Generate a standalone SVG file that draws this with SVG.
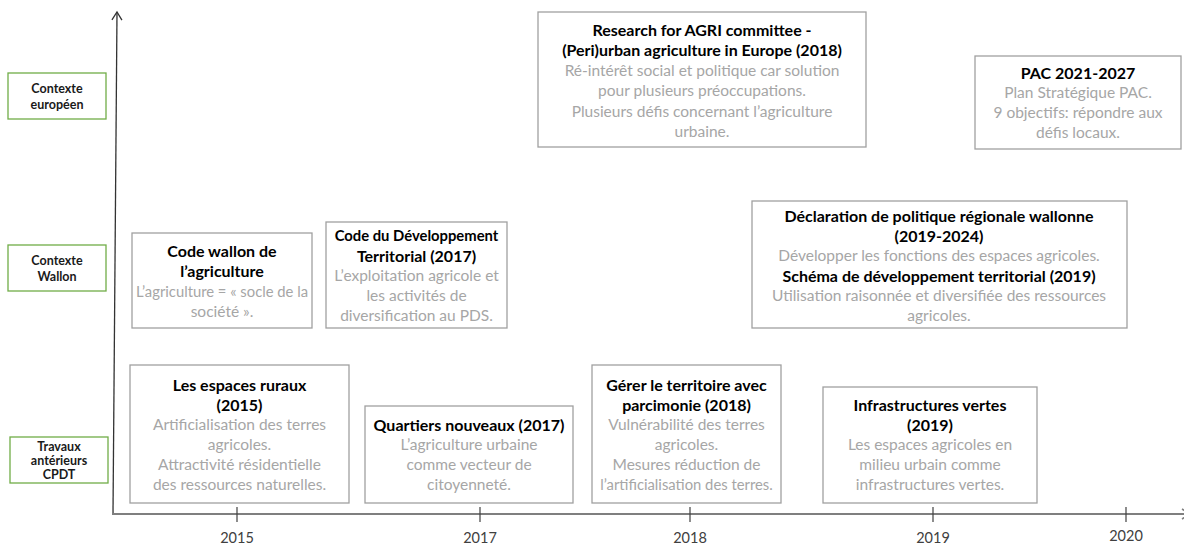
<svg xmlns="http://www.w3.org/2000/svg" width="1184" height="545" viewBox="0 0 1184 545">
<style>
.box{fill:#fff;stroke:#a0a0a0;stroke-width:1.3}
.lab{fill:#fff;stroke:#70ad47;stroke-width:1.3}
text{font-family:Lato,"Liberation Sans",sans-serif;text-anchor:middle;dominant-baseline:central}
.t{font-size:16px;font-weight:bold;fill:#000}
.b{font-size:15.5px;fill:#a6a6a6}
.s{font-size:14.8px}
.l{font-size:12.5px;font-weight:bold;fill:#1a1a1a}
.yr{font-size:14.5px;fill:#404040}
.ax{stroke:#333;stroke-width:1.3;fill:none}
</style>
<defs>
<marker id="arr" markerWidth="14" markerHeight="14" refX="11" refY="6" orient="auto" markerUnits="userSpaceOnUse" viewBox="0 0 14 12">
<path d="M3,1 L11,6 L3,11" fill="none" stroke="#333" stroke-width="1.3"/>
</marker>
<marker id="arr2" markerWidth="14" markerHeight="14" refX="11" refY="6" orient="auto" markerUnits="userSpaceOnUse" viewBox="0 0 14 12">
<path d="M3,1 L11,6 L3,11" fill="none" stroke="#7f7f7f" stroke-width="1.5"/>
</marker>
</defs>
<g id="connectors">
<line class="ax" x1="113" y1="514" x2="117" y2="12" marker-end="url(#arr)"/>
<line x1="112" y1="514" x2="1190" y2="514" stroke="#7f7f7f" stroke-width="2" marker-end="url(#arr2)"/>
<g stroke="#404040" stroke-width="1.2">
<line x1="237" y1="507" x2="237" y2="522"/>
<line x1="480" y1="507" x2="480" y2="522"/>
<line x1="690" y1="507" x2="690" y2="522"/>
<line x1="933" y1="507" x2="933" y2="522"/>
<line x1="1126" y1="507" x2="1126" y2="522"/>
</g>
<g>
<text class="yr" x="237" y="537">2015</text>
<text class="yr" x="480" y="537">2017</text>
<text class="yr" x="690" y="537">2018</text>
<text class="yr" x="933" y="537">2019</text>
<text class="yr" x="1126" y="535">2020</text>
</g>
</g>
<g id="label-europe">
<rect class="lab" x="8" y="73" width="98" height="46"/>
<text class="l" x="57" y="88">Contexte</text>
<text class="l" x="57" y="104">européen</text>
</g>
<g id="label-wallon">
<rect class="lab" x="8" y="245" width="98" height="46"/>
<text class="l" x="57" y="260">Contexte</text>
<text class="l" x="57" y="276">Wallon</text>
</g>
<g id="label-cpdt">
<rect class="lab" x="10" y="437" width="98" height="46"/>
<text class="l" x="59" y="446">Travaux</text>
<text class="l" x="59" y="460">antérieurs</text>
<text class="l" x="59" y="474">CPDT</text>
</g>
<g id="research-agri">
<rect class="box" x="538" y="12" width="328" height="135"/>
<text class="t" x="702" y="29">Research for AGRI committee -</text>
<text class="t" x="702" y="49">(Peri)urban agriculture in Europe (2018)</text>
<text class="b" x="702" y="70">Ré-intérêt social et politique car solution</text>
<text class="b" x="702" y="90">pour plusieurs préoccupations.</text>
<text class="b" x="702" y="111">Plusieurs défis concernant l’agriculture</text>
<text class="b" x="702" y="131">urbaine.</text>
</g>
<g id="pac">
<rect class="box" x="975" y="56" width="206" height="93"/>
<text class="t" x="1078" y="72">PAC 2021-2027</text>
<text class="b" x="1078" y="92">Plan Stratégique PAC.</text>
<text class="b" x="1078" y="112">9 objectifs: répondre aux</text>
<text class="b" x="1078" y="132">défis locaux.</text>
</g>
<g id="code-wallon">
<rect class="box" x="132" y="233" width="180" height="95"/>
<text class="t" x="222" y="250">Code wallon de</text>
<text class="t" x="222" y="270">l’agriculture</text>
<text class="b s" x="222" y="291">L’agriculture = « socle de la</text>
<text class="b" x="222" y="311">société ».</text>
</g>
<g id="code-developpement">
<rect class="box" x="326" y="222" width="181" height="106"/>
<text class="t s" x="416.5" y="235">Code du Développement</text>
<text class="t" x="416.5" y="255">Territorial (2017)</text>
<text class="b" x="416.5" y="275">L’exploitation agricole et</text>
<text class="b" x="416.5" y="295">les activités de</text>
<text class="b" x="416.5" y="315">diversification au PDS.</text>
</g>
<g id="declaration">
<rect class="box" x="752" y="201" width="375" height="127"/>
<text class="t" x="939" y="215">Déclaration de politique régionale wallonne</text>
<text class="t" x="939" y="235">(2019-2024)</text>
<text class="b" x="939" y="255">Développer les fonctions des espaces agricoles.</text>
<text class="t" x="939" y="275">Schéma de développement territorial (2019)</text>
<text class="b" x="939" y="295">Utilisation raisonnée et diversifiée des ressources</text>
<text class="b" x="939" y="315">agricoles.</text>
</g>
<g id="espaces-ruraux">
<rect class="box" x="130" y="365" width="219" height="138"/>
<text class="t" x="239.5" y="384">Les espaces ruraux</text>
<text class="t" x="239.5" y="404">(2015)</text>
<text class="b" x="239.5" y="424">Artificialisation des terres</text>
<text class="b" x="239.5" y="444">agricoles.</text>
<text class="b" x="239.5" y="464">Attractivité résidentielle</text>
<text class="b" x="239.5" y="484">des ressources naturelles.</text>
</g>
<g id="quartiers-nouveaux">
<rect class="box" x="365" y="406" width="208" height="97"/>
<text class="t" x="469" y="424">Quartiers nouveaux (2017)</text>
<text class="b" x="469" y="444">L’agriculture urbaine</text>
<text class="b" x="469" y="464">comme vecteur de</text>
<text class="b" x="469" y="484">citoyenneté.</text>
</g>
<g id="gerer-territoire">
<rect class="box" x="592" y="365" width="189" height="138"/>
<text class="t" x="686.5" y="384">Gérer le territoire avec</text>
<text class="t" x="686.5" y="404">parcimonie (2018)</text>
<text class="b" x="686.5" y="424">Vulnérabilité des terres</text>
<text class="b" x="686.5" y="444">agricoles.</text>
<text class="b" x="686.5" y="464">Mesures réduction de</text>
<text class="b s" x="686.5" y="484">l’artificialisation des terres.</text>
</g>
<g id="infrastructures-vertes">
<rect class="box" x="823" y="387" width="214" height="116"/>
<text class="t" x="930" y="404">Infrastructures vertes</text>
<text class="t" x="930" y="424">(2019)</text>
<text class="b" x="930" y="444">Les espaces agricoles en</text>
<text class="b" x="930" y="464">milieu urbain comme</text>
<text class="b" x="930" y="484">infrastructures vertes.</text>
</g>
</svg>
